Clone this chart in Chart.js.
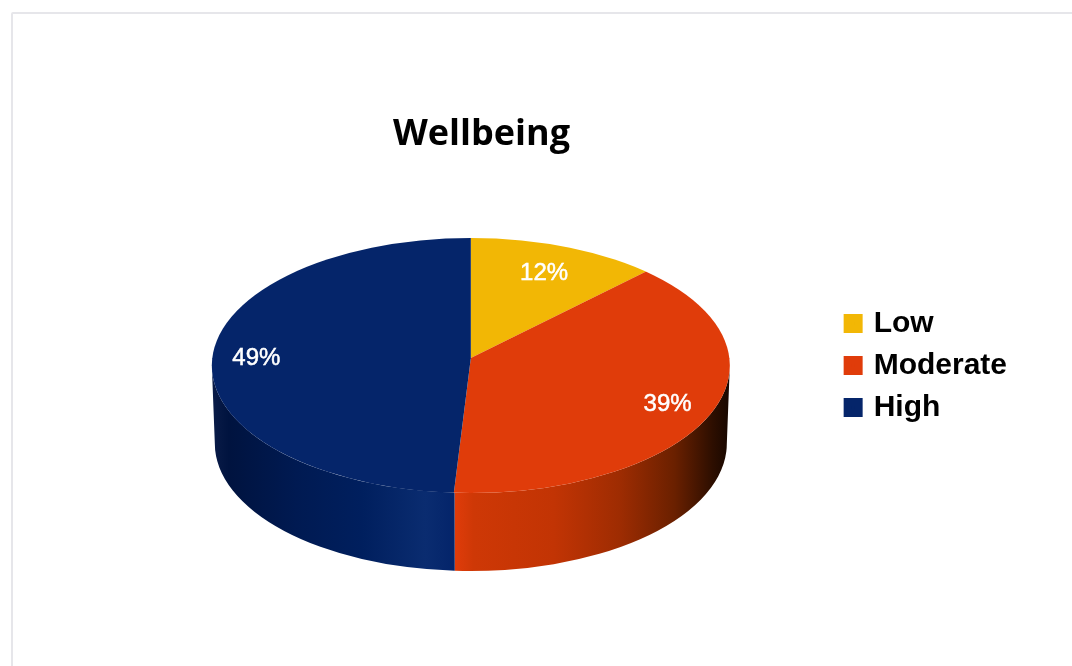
<!DOCTYPE html>
<html>
<head>
<meta charset="utf-8">
<style>
html,body{margin:0;padding:0;background:#fff;overflow:hidden}
#frame{position:absolute;left:11px;top:12px;width:1100px;height:700px;border:2px solid #e6e6ea;border-radius:2px;box-sizing:border-box}
#c{position:absolute;left:0;top:0}
</style>
<script src="https://cdn.jsdelivr.net/npm/chart.js@4"></script>
</head>
<body>
<div id="frame"></div>
<canvas id="c" width="1072" height="666"></canvas>
<script>
const categories = ['Low', 'Moderate', 'High'];
const values = [12, 39, 49];
const sliceColors = ['#F2B705', '#E03C0A', '#05256A'];

const FLATTEN = 0.4923, DEPTH = 78;
const APEX_RISE = 7.5, BACK_FLATTEN = 0.464, FRONT_FLATTEN = 0.5, OVERSCAN = 1.2;
const BOTTOM_RX_INSET = 3, LABEL_FRACTION = 0.79;
const labelNudge = [[-2, 1], [9, -1], [-10, -4]];

const wallStops = {
  1: [[0,'#E03C0A'],[0.07,'#CE3806'],[0.36,'#C23404'],[0.6,'#9E2C02'],[0.8,'#6A2000'],[0.94,'#2C0E00'],[1,'#170700']],
  2: [[0,'#0A1C48'],[0.07,'#00133F'],[0.35,'#001A52'],[0.62,'#001F5E'],[0.88,'#0A2C70'],[1,'#04246A']]
};

const pie3d = {
  id: 'pie3d',
  afterLayout(chart) {
    const t = chart.titleBlock;
    if (t) { t.left -= 80; t.right -= 80; }
  },
  beforeDatasetsDraw(chart) {
    const ctx = chart.ctx;
    const arcs = chart.getDatasetMeta(0).data;
    const cx = arcs[0].x, cy = arcs[0].y, rx = arcs[0].outerRadius, ry = rx * FLATTEN;
    const botRx = rx - BOTTOM_RX_INSET;

    // side wall
    ctx.save();
    arcs.forEach((arc, i) => {
      const a = Math.max(arc.startAngle, 0), b = Math.min(arc.endAngle, Math.PI);
      if (b <= a) return;
      const g = ctx.createLinearGradient(cx + rx * Math.cos(b), 0, cx + rx * Math.cos(a), 0);
      wallStops[i].forEach(s => g.addColorStop(s[0], s[1]));
      ctx.fillStyle = g;
      ctx.beginPath();
      ctx.ellipse(cx, cy, rx, ry, 0, a, b);
      ctx.ellipse(cx, cy + DEPTH, botRx, ry, 0, b, a, true);
      ctx.closePath();
      ctx.fill();
    });
    ctx.restore();

    // top face: library arcs, projected about a raised apex and clipped to the ellipse
    const apexY = cy - APEX_RISE;
    const pass = (clipTop, clipH, k) => {
      ctx.save();
      ctx.beginPath();
      ctx.ellipse(cx, cy, rx, ry, 0, 0, Math.PI * 2);
      ctx.clip();
      ctx.beginPath();
      ctx.rect(cx - rx - 2, clipTop, rx * 2 + 4, clipH);
      ctx.clip();
      ctx.translate(cx, apexY);
      ctx.scale(OVERSCAN, OVERSCAN * k);
      ctx.translate(-cx, -cy);
      arcs.forEach(arc => arc.draw(ctx));
      ctx.restore();
    };
    pass(apexY - rx, rx + 0.5, BACK_FLATTEN);
    pass(apexY, rx, FRONT_FLATTEN);

    // value labels
    ctx.save();
    ctx.font = '24px "Liberation Sans"';
    ctx.fillStyle = '#fff';
    ctx.strokeStyle = '#fff';
    ctx.lineWidth = 0.5;
    ctx.textAlign = 'center';
    ctx.textBaseline = 'middle';
    arcs.forEach((arc, i) => {
      const m = (arc.startAngle + arc.endAngle) / 2;
      const r = rx * LABEL_FRACTION;
      const x = cx + r * Math.cos(m) + labelNudge[i][0];
      const y = cy + r * FLATTEN * Math.sin(m) + labelNudge[i][1];
      ctx.fillText(values[i] + '%', x, y);
      ctx.strokeText(values[i] + '%', x, y);
    });
    ctx.restore();
    return false;
  }
};

new Chart(document.getElementById('c'), {
  type: 'pie',
  data: {
    labels: categories,
    datasets: [{ data: values, backgroundColor: sliceColors, borderWidth: 0, radius: 259 }]
  },
  options: {
    responsive: false,
    animation: false,
    events: [],
    layout: { padding: { top: 100, left: 106, right: 55, bottom: 130 } },
    plugins: {
      tooltip: { enabled: false },
      title: {
        display: true, text: 'Wellbeing', color: '#000',
        font: { family: '"Open Sans"', size: 36, weight: 'bold', lineHeight: 1.2 },
        padding: { top: 13, bottom: 39 }
      },
      legend: {
        position: 'right',
        fullSize: false,
        labels: {
          color: '#000',
          font: { family: '"Liberation Sans"', size: 30, weight: 'bold' },
          boxWidth: 11, boxHeight: 11, padding: 12,
          generateLabels(chart) {
            return Chart.overrides.pie.plugins.legend.labels.generateLabels(chart).map(it => {
              it.lineWidth = 8; it.strokeStyle = it.fillStyle; return it;
            });
          }
        }
      }
    }
  },
  plugins: [pie3d]
});
</script>
</body>
</html>
